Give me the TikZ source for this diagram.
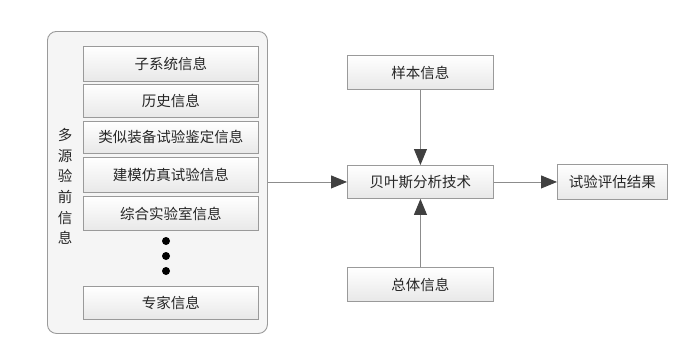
\documentclass[tikz,border=0pt]{standalone}
\usepackage{fontspec}
\setmainfont{Noto Sans CJK SC}
\usetikzlibrary{arrows.meta}
\definecolor{txt}{HTML}{262626}
\definecolor{edge}{HTML}{9A9A9A}
\definecolor{ln}{HTML}{8C8C8C}
\definecolor{tip}{HTML}{404040}
\tikzset{
  box/.style={draw=edge, line width=0.9pt, top color=white, bottom color=black!9, text=txt, inner sep=0pt, anchor=north west},
  lbl/.style={text=txt, font=\fontsize{14.5}{16}\selectfont},
  conn/.style={draw=ln, line width=0.9pt, -{Triangle[length=16pt,width=13pt,fill=tip,color=tip]}},
  dotmark/.style={circle, fill=black, inner sep=0pt, minimum size=8pt}
}
\begin{document}
\begin{tikzpicture}[x=1pt,y=-1pt]
\useasboundingbox (0,0) rectangle (698,348);
% outer container
\node[draw=edge, line width=0.9pt, fill=black!4, rounded corners=9pt, minimum width=220pt, minimum height=302pt, inner sep=0pt, anchor=north west] (outer) at (47,31) {};
\node[text=txt, font=\fontsize{14.5}{20.6}\selectfont, align=center, inner sep=0pt] (src) at (65,186.5) {多\\源\\验\\前\\信\\息};
% inner boxes
\node[box, minimum width=175pt, minimum height=35pt] (b1) at (83,46) {};
\node[lbl] at (b1.center) {子系统信息};
\node[box, minimum width=175pt, minimum height=33pt] (b2) at (83,84) {};
\node[lbl] at (b2.center) {历史信息};
\node[box, minimum width=175pt, minimum height=32pt] (b3) at (83,121) {};
\node[lbl] at (b3.center) {类似装备试验鉴定信息};
\node[box, minimum width=175pt, minimum height=35pt] (b4) at (83,157) {};
\node[lbl] at (b4.center) {建模仿真试验信息};
\node[box, minimum width=175pt, minimum height=34pt] (b5) at (83,196) {};
\node[lbl] at (b5.center) {综合实验室信息};
\node[dotmark] (d1) at (166,241) {};
\node[dotmark] (d2) at (166,256) {};
\node[dotmark] (d3) at (166,271) {};
\node[box, minimum width=175pt, minimum height=33pt] (b6) at (83,286) {};
\node[lbl] at (b6.center) {专家信息};
% right side
\node[box, minimum width=146pt, minimum height=34pt] (sample) at (347,55) {};
\node[lbl] at (sample.center) {样本信息};
\node[box, minimum width=146pt, minimum height=33pt] (bayes) at (347,165) {};
\node[lbl] at (bayes.center) {贝叶斯分析技术};
\node[box, minimum width=146pt, minimum height=34pt] (pop) at (347,267) {};
\node[lbl] at (pop.center) {总体信息};
\node[box, minimum width=110pt, minimum height=35pt] (res) at (557,164) {};
\node[lbl] at (res.center) {试验评估结果};
% connectors
\draw[conn] (outer.east |- bayes.west) -- (bayes.west);
\draw[conn] (sample.south) -- (bayes.north);
\draw[conn] (pop.north) -- (bayes.south);
\draw[conn] (bayes.east) -- (res.west |- bayes.east);
\end{tikzpicture}
\end{document}
